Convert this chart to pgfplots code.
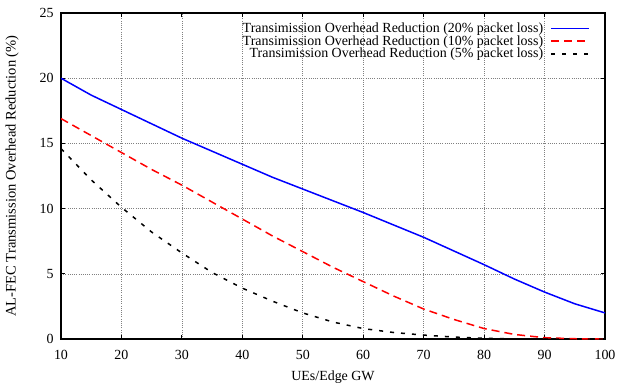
\documentclass[border=0pt]{standalone}
\usepackage{pgfplots}
\pgfplotsset{compat=1.18}
\usepackage{fontspec}
\setmainfont{Liberation Serif}
\begin{document}
\begin{tikzpicture}
\useasboundingbox (-61bp,-46bp) rectangle (556bp,339bp);
\begin{axis}[
  scale only axis, width=544bp, height=326bp,
  xmin=10, xmax=100, ymin=0, ymax=25,
  xtick={10,20,...,100}, ytick={0,5,...,25},
  /pgf/number format/assume math mode=true,
  tick label style={font=\fontsize{14}{15}\selectfont},
  xticklabel style={yshift=-8bp},
  yticklabel style={xshift=-4bp},
  label style={font=\fontsize{14}{15}\selectfont},
  xlabel={UEs/Edge GW},
  xlabel style={yshift=-4bp},
  ylabel={AL-FEC Transmission Overhead Reduction (\%)},
  ylabel style={yshift=14bp, font=\fontsize{14.6}{15}\selectfont},
  grid=major,
  major grid style={gray, line width=0.6pt, dash pattern=on 0.6pt off 1.6pt},
  axis line style={black, line width=1.1pt},
  tick style={black, line width=0.9pt},
  major tick length=4bp,
  tick align=inside,
  xtick pos=both, ytick pos=both,
  legend style={draw=none, fill=none, at={(0.975,0.975)}, anchor=north east,
    font=\fontsize{14}{14}\selectfont, row sep=0.5bp, inner sep=1pt,
    nodes={inner sep=0.5bp}},
  legend cell align=right,
  legend plot pos=right,
  legend image code/.code={\path (0bp,0bp); \draw[#1] (7bp,0bp) -- (45bp,0bp);},
]
\addplot[blue, line width=1.5pt] coordinates {
(10,20.0)(15,18.7)(20,17.6)(25,16.5)(30,15.4)(35,14.4)(40,13.4)(45,12.4)(50,11.5)(55,10.6)(60,9.7)(65,8.75)(70,7.8)(75,6.75)(80,5.7)(85,4.6)(90,3.6)(95,2.7)(100,2.0)};
\addlegendentry{Transimission Overhead Reduction (20\% packet loss)}
\addplot[red, line width=1.5pt, dash pattern=on 8bp off 5bp] coordinates {
(10,16.9)(15,15.6)(20,14.3)(25,13.0)(30,11.8)(35,10.5)(40,9.2)(45,7.9)(50,6.7)(55,5.5)(60,4.4)(65,3.3)(70,2.3)(75,1.5)(80,0.8)(85,0.35)(90,0.1)(95,0.02)(100,0)};
\addlegendentry{Transimission Overhead Reduction (10\% packet loss)}
\addplot[black, line width=1.5pt, dash pattern=on 4bp off 7bp] coordinates {
(10,14.6)(15,12.2)(20,10.1)(25,8.2)(30,6.6)(35,5.1)(40,3.9)(45,2.9)(50,2.0)(55,1.3)(60,0.8)(65,0.5)(70,0.3)(75,0.15)(80,0.05)(85,0.01)(90,0)(95,0)(100,0)};
\addlegendentry{Transimission Overhead Reduction (5\% packet loss)}
\end{axis}
\end{tikzpicture}
\end{document}
